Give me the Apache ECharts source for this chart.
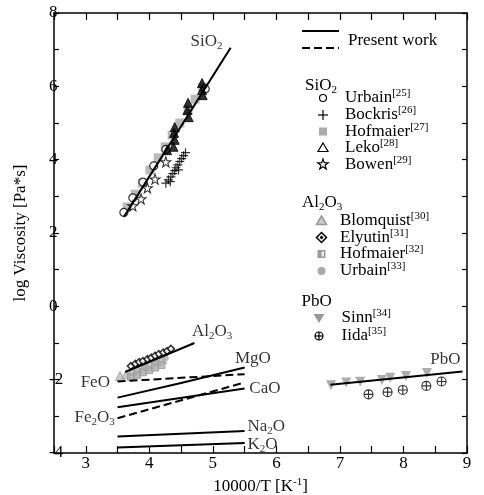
<!DOCTYPE html>
<html>
<head>
<meta charset="utf-8">
<script src="https://cdn.jsdelivr.net/npm/echarts@6/dist/echarts.min.js"></script>
<style>
  html, body { margin: 0; padding: 0; background: #fff; }
  #chart { width: 484px; height: 495px; }
</style>
</head>
<body>
<div id="chart"></div>
<script>
const FONT = 'Liberation Serif';

// axis ticks
const xTicks = [3, 4, 5, 6, 7, 8, 9];
const yTicks = [-4, -2, 0, 2, 4, 6, 8];

// present work: fitted curves (10000/T, log viscosity)
const lineSiO2 = [[3.60, 2.44], [5.28, 7.05]];
const lineAl2O3 = [[3.62, -1.79], [4.71, -1.00]];
const lineMgO = [[3.5, -2.49], [4.5, -2.09], [5.5, -1.67]];
const lineCaO = [[3.5, -2.75], [5.5, -2.24]];
const lineNa2O = [[3.5, -3.55], [5.5, -3.40]];
const lineK2O = [[3.5, -3.85], [5.5, -3.73]];
const linePbO = [[6.85, -2.14], [8.93, -1.78]];
const dashFeO = [[3.5, -2.05], [5.5, -1.85]];
const dashFe2O3 = [[3.5, -3.05], [5.45, -2.10]];

// literature data, SiO2
const urbainSiO2 = [[3.60, 2.56], [3.74, 2.96], [3.90, 3.39], [4.07, 3.83], [4.26, 4.28], [4.88, 5.93]];
const bockrisSiO2 = [[4.26, 3.36], [4.30, 3.45], [4.34, 3.53], [4.37, 3.62], [4.40, 3.70], [4.42, 3.78],
  [4.45, 3.86], [4.48, 3.95], [4.51, 4.03], [4.54, 4.11], [4.57, 4.19], [4.33, 3.40], [4.46, 3.72]];
const hofmaierSiO2 = [[3.65, 2.71], [3.78, 3.06], [3.89, 3.36], [4.01, 3.72], [4.14, 4.05], [4.25, 4.35],
  [4.36, 4.67], [4.48, 5.00], [4.61, 5.35], [4.72, 5.65], [4.84, 5.98]];
const lekoSiO2 = [[4.83, 6.09], [4.83, 5.90], [4.84, 5.76], [4.61, 5.55], [4.60, 5.35], [4.62, 5.16],
  [4.40, 4.89], [4.39, 4.73], [4.40, 4.54], [4.38, 4.35], [4.28, 4.26]];
const bowenSiO2 = [[3.74, 2.74], [3.87, 2.93], [3.97, 3.23], [4.09, 3.47], [4.26, 3.94]];

// literature data, Al2O3
const blomquistAl2O3 = [[3.54, -1.90], [3.64, -1.85], [3.73, -1.76], [3.82, -1.71], [3.92, -1.63],
  [4.01, -1.57], [4.11, -1.49], [4.20, -1.44]];
const elyutinAl2O3 = [[3.71, -1.63], [3.78, -1.57], [3.84, -1.52], [3.90, -1.49], [3.97, -1.44],
  [4.03, -1.40], [4.09, -1.35], [4.15, -1.30], [4.22, -1.26], [4.28, -1.22], [4.34, -1.16]];
const hofmaierAl2O3 = [[3.71, -1.93], [3.81, -1.87], [3.90, -1.80], [4.00, -1.74], [4.09, -1.67], [4.19, -1.60]];
const urbainAl2O3 = [[3.93, -1.63], [4.09, -1.52], [4.25, -1.41]];

// literature data, PbO
const sinnPbO = [[6.86, -2.15], [7.10, -2.08], [7.32, -2.06], [7.66, -2.01], [7.79, -1.95], [8.04, -1.90], [8.37, -1.82]];
const iidaPbO = [[7.45, -2.40], [7.75, -2.34], [7.99, -2.28], [8.36, -2.17], [8.60, -2.05]];

// curve labels
const curveLabels = ['SiO2', 'Al2O3', 'MgO', 'FeO', 'CaO', 'Fe2O3', 'Na2O', 'K2O', 'PbO'];
const curveLabelX = [4.90, 4.99, 5.63, 3.15, 5.82, 3.14, 5.84, 5.78, 8.66];
const curveLabelY = [7.21, -0.70, -1.41, -2.09, -2.23, -3.04, -3.29, -3.78, -1.46];

const PLUS = 'path://M-5,0L5,0M0,-5L0,5';
const STAR = 'path://M0,-10L2.35,-3.24L9.51,-3.09L3.8,1.24L5.88,8.09L0,4L-5.88,8.09L-3.8,1.24L-9.51,-3.09L-2.35,-3.24Z';
const CROSS_CIRCLE = 'path://M-5,0A5,5,0,1,1,5,0A5,5,0,1,1,-5,0ZM-5,0L5,0M0,-5L0,5';

const chart = echarts.init(document.getElementById('chart'));

const sub = (s) => s.replace(/(\d)/g, '{s|$1}');

const lineSeries = (data, dashed) => ({
  type: 'line',
  data: data,
  showSymbol: false,
  symbol: 'none',
  lineStyle: { color: '#000', width: 2, type: dashed ? [8, 4] : 'solid' },
  z: 5,
  silent: true,
});

const scatter = (data, symbol, size, style, extra) => Object.assign({
  type: 'scatter',
  data: data,
  symbol: symbol,
  symbolSize: size,
  itemStyle: style,
  silent: true,
  z: 3,
}, extra || {});

// legend built by hand (groups with headers, like the figure)
const star = (cx, cy, R) => {
  const pts = [];
  for (let i = 0; i < 10; i++) {
    const a = (-90 + i * 36) * Math.PI / 180;
    const r = i % 2 === 0 ? R : R * 0.4;
    pts.push([cx + r * Math.cos(a), cy + r * Math.sin(a)]);
  }
  return pts;
};

const legendSymbol = (kind, cx, cy) => {
  const k = { stroke: '#000', lineWidth: 1.2 };
  switch (kind) {
    case 'circleOpen':
      return [{ type: 'circle', shape: { cx, cy, r: 3.5 }, style: { fill: '#fff', ...k } }];
    case 'plus':
      return [
        { type: 'line', shape: { x1: cx - 5, y1: cy, x2: cx + 5, y2: cy }, style: k },
        { type: 'line', shape: { x1: cx, y1: cy - 5, x2: cx, y2: cy + 5 }, style: k },
      ];
    case 'squareGray':
      return [{ type: 'rect', shape: { x: cx - 4, y: cy - 4, width: 8, height: 8 }, style: { fill: '#aaa' } }];
    case 'triangleOpen':
      return [{ type: 'polygon', shape: { points: [[cx, cy - 5], [cx + 5, cy + 3.5], [cx - 5, cy + 3.5]] }, style: { fill: '#fff', ...k } }];
    case 'star':
      return [{ type: 'polygon', shape: { points: star(cx, cy, 5.5) }, style: { fill: '#fff', ...k } }];
    case 'triangleGray':
      return [{ type: 'polygon', shape: { points: [[cx, cy - 5], [cx + 5, cy + 3.5], [cx - 5, cy + 3.5]] }, style: { fill: '#ccc', stroke: '#999', lineWidth: 1.5 } }];
    case 'diamond':
      return [
        { type: 'polygon', shape: { points: [[cx, cy - 5], [cx + 5, cy], [cx, cy + 5], [cx - 5, cy]] }, style: { fill: '#fff', stroke: '#000', lineWidth: 1.5 } },
        { type: 'polygon', shape: { points: [[cx, cy - 2], [cx + 2, cy], [cx, cy + 2], [cx - 2, cy]] }, style: { fill: '#000' } },
      ];
    case 'squareHalf':
      return [
        { type: 'rect', shape: { x: cx - 4, y: cy - 4, width: 8, height: 8 }, style: { fill: '#999' } },
        { type: 'rect', shape: { x: cx, y: cy - 2.5, width: 2.5, height: 5 }, style: { fill: '#eee' } },
      ];
    case 'circleGray':
      return [{ type: 'circle', shape: { cx, cy, r: 4 }, style: { fill: '#aaa' } }];
    case 'triangleDownGray':
      return [{ type: 'polygon', shape: { points: [[cx - 5.5, cy - 4], [cx + 5.5, cy - 4], [cx, cy + 5]] }, style: { fill: '#999' } }];
    case 'circleCross':
      return [
        { type: 'circle', shape: { cx, cy, r: 4 }, style: { fill: 'none', ...k } },
        { type: 'line', shape: { x1: cx - 4, y1: cy, x2: cx + 4, y2: cy }, style: k },
        { type: 'line', shape: { x1: cx, y1: cy - 4, x2: cx, y2: cy + 4 }, style: k },
      ];
  }
  return [];
};

const txtRich = {
  s: { fontSize: 11, fontFamily: FONT, lineHeight: 11, verticalAlign: 'bottom', fill: '#000' },
  p: { fontSize: 11, fontFamily: FONT, lineHeight: 11, verticalAlign: 'top', fill: '#000' },
};

const legendText = (text, x, y) => ({
  type: 'text',
  x: x,
  y: y,
  style: {
    text: text,
    fontSize: 17,
    fontFamily: FONT,
    fill: '#000',
    lineHeight: 20,
    verticalAlign: 'middle',
    align: 'left',
    rich: txtRich,
  },
});

const legendEntries = [
  // [symbol, label, ref, symbol x, text x, y]
  ['circleOpen', 'Urbain', '25', 323, 345, 98],
  ['plus', 'Bockris', '26', 323, 345, 115],
  ['squareGray', 'Hofmaier', '27', 323, 345, 131.5],
  ['triangleOpen', 'Leko', '28', 323, 345, 148],
  ['star', 'Bowen', '29', 323, 345, 164.5],
  ['triangleGray', 'Blomquist', '30', 321.5, 340, 221],
  ['diamond', 'Elyutin', '31', 321.5, 340, 237.5],
  ['squareHalf', 'Hofmaier', '32', 321.5, 340, 254],
  ['circleGray', 'Urbain', '33', 321.5, 340, 271],
  ['triangleDownGray', 'Sinn', '34', 319, 341.5, 318],
  ['circleCross', 'Iida', '35', 319, 341.5, 336],
];

const graphic = [
  { type: 'line', shape: { x1: 302, y1: 31, x2: 339, y2: 31 }, style: { stroke: '#000', lineWidth: 2 } },
  { type: 'line', shape: { x1: 302, y1: 48, x2: 339, y2: 48 }, style: { stroke: '#000', lineWidth: 2, lineDash: [8, 4] } },
  legendText('Present work', 348, 41),
  legendText(sub('SiO2'), 305, 86),
  legendText(sub('Al2O3'), 302, 203),
  legendText('PbO', 301.5, 302),
];
legendEntries.forEach(([kind, name, ref, sx, tx, y]) => {
  legendSymbol(kind, sx, y).forEach((g) => graphic.push(g));
  graphic.push(legendText(name + '{p|[' + ref + ']}', tx, y));
});

const axisCommon = {
  type: 'value',
  axisLine: { show: true, onZero: false, lineStyle: { color: '#000', width: 1.5 } },
  axisTick: { show: true, inside: true, lineStyle: { color: '#000', width: 1.2 } },
  splitLine: { show: false },
};

chart.setOption({
  animation: false,
  backgroundColor: '#fff',
  textStyle: { fontFamily: FONT },
  grid: { left: 54, right: 17, top: 13, bottom: 42, containLabel: false, outerBoundsMode: 'none' },
  xAxis: [
    Object.assign({}, axisCommon, {
      min: 2.5, max: 9, interval: 0.5,
      position: 'bottom',
      axisTick: Object.assign({}, axisCommon.axisTick, { length: 7 }),
      axisLabel: {
        color: '#000', fontSize: 17, fontFamily: FONT, margin: 2,
        formatter: (v) => (xTicks.indexOf(Math.round(v * 2) / 2) >= 0 ? String(Math.round(v)) : ''),
      },
      name: '10000/T [K{p|-1}]',
      nameLocation: 'middle',
      nameGap: 19,
      nameTextStyle: { color: '#000', fontSize: 17, fontFamily: FONT, lineHeight: 20, rich: txtRich },
    }),
    Object.assign({}, axisCommon, {
      min: 2.5, max: 9, interval: 0.5,
      position: 'top',
      axisTick: Object.assign({}, axisCommon.axisTick, { length: 7 }),
      axisLabel: { show: false },
    }),
  ],
  yAxis: [
    Object.assign({}, axisCommon, {
      min: -4, max: 8, interval: 1,
      position: 'left',
      axisTick: Object.assign({}, axisCommon.axisTick, { length: 5 }),
      axisLabel: {
        color: '#000', fontSize: 17, fontFamily: FONT, margin: 5, align: 'left',
        formatter: (v) => (yTicks.indexOf(v) >= 0 ? String(v) : ''),
      },
      name: 'log Viscosity [Pa*s]',
      nameLocation: 'middle',
      nameGap: 25,
      nameTextStyle: { color: '#000', fontSize: 17, fontFamily: FONT },
    }),
    Object.assign({}, axisCommon, {
      min: -4, max: 8, interval: 1,
      position: 'right',
      axisTick: Object.assign({}, axisCommon.axisTick, { length: 5 }),
      axisLabel: { show: false },
    }),
  ],
  graphic: graphic,
  series: [
    scatter(hofmaierSiO2, 'rect', 9, { color: '#aaa' }, { z: 2 }),
    scatter(urbainSiO2, 'circle', 8, { color: '#fff', borderColor: '#000', borderWidth: 1.2 }),
    scatter(bockrisSiO2, PLUS, 9, { color: 'transparent', borderColor: '#000', borderWidth: 1.2 }),
    scatter(lekoSiO2, 'triangle', 9, { color: '#000', borderColor: '#000', borderWidth: 1 }),
    scatter(bowenSiO2, STAR, 10, { color: '#fff', borderColor: '#000', borderWidth: 1.1 }),

    scatter(blomquistAl2O3, 'triangle', 9, { color: '#bbb', borderColor: '#999', borderWidth: 1 }),
    scatter(hofmaierAl2O3, 'rect', 7, { color: '#aaa', borderColor: '#999', borderWidth: 1 }),
    scatter(urbainAl2O3, 'circle', 7, { color: '#aaa' }),
    scatter(elyutinAl2O3, 'diamond', 7, { color: '#fff', borderColor: '#000', borderWidth: 1.5 }),

    scatter(sinnPbO, 'triangle', 10, { color: '#999' }, { symbolRotate: 180 }),
    scatter(iidaPbO, CROSS_CIRCLE, 9, { color: 'transparent', borderColor: '#000', borderWidth: 1.1 }),

    lineSeries(lineSiO2),
    lineSeries(lineAl2O3),
    lineSeries(lineMgO),
    lineSeries(lineCaO),
    lineSeries(lineNa2O),
    lineSeries(lineK2O),
    lineSeries(linePbO),
    lineSeries(dashFeO, true),
    lineSeries(dashFe2O3, true),

    {
      type: 'scatter',
      symbolSize: 0,
      silent: true,
      z: 6,
      data: curveLabels.map((name, i) => ({ value: [curveLabelX[i], curveLabelY[i]], name: name })),
      label: {
        show: true,
        position: 'inside',
        align: 'center',
        verticalAlign: 'middle',
        color: '#000',
        fontSize: 17,
        fontFamily: FONT,
        lineHeight: 20,
        formatter: (p) => sub(p.name),
        rich: txtRich,
      },
    },
  ],
});
</script>
</body>
</html>
